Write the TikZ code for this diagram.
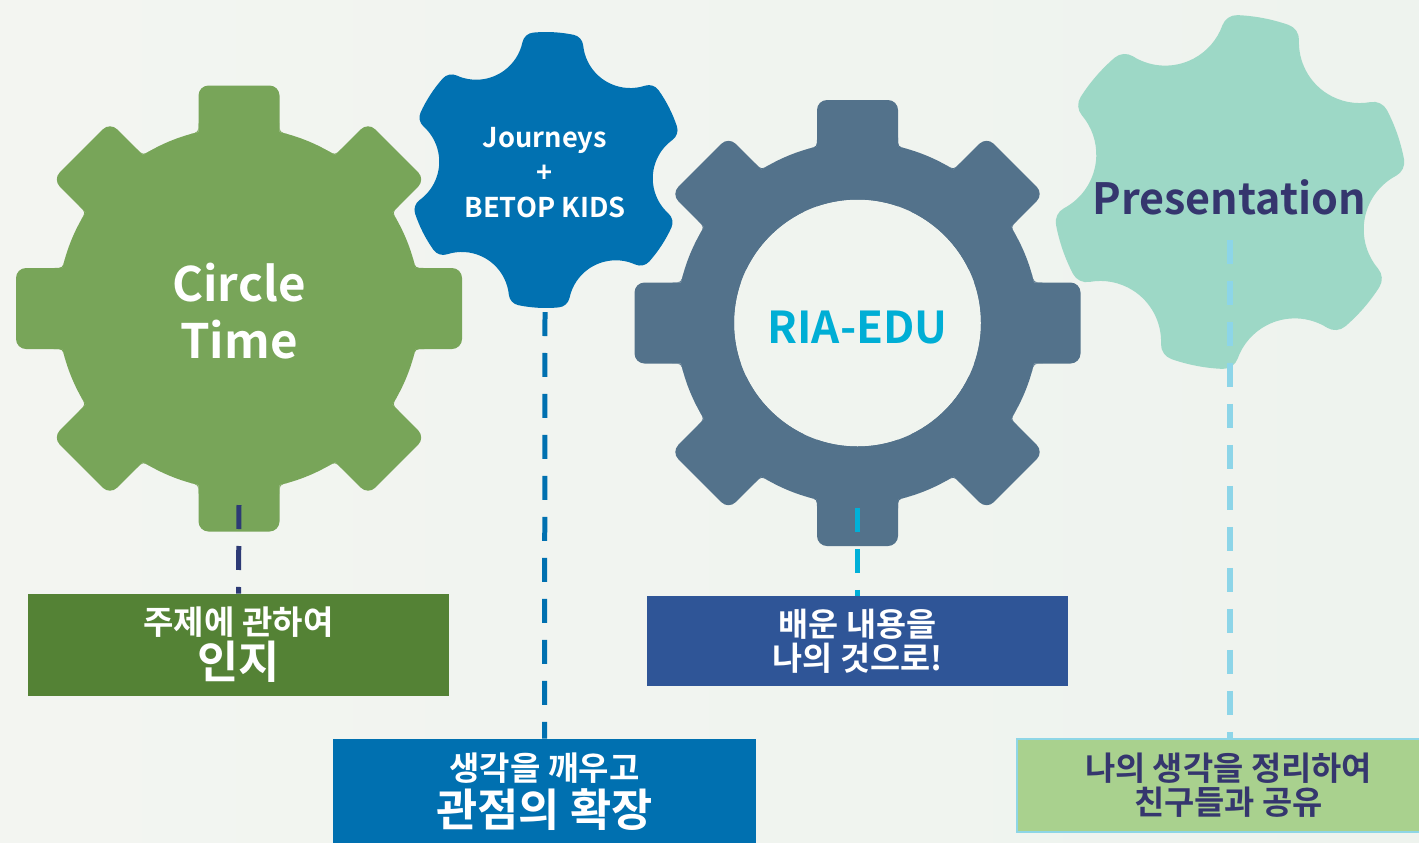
\documentclass[tikz,border=0pt]{standalone}
\usepackage{fontspec}
\newfontfamily\krb{Noto Sans CJK KR Bold}
\definecolor{bgL}{HTML}{F3F5F1}
\definecolor{bgR}{HTML}{EEF3EE}
\definecolor{gGreen}{HTML}{78A559}
\definecolor{gBlue}{HTML}{0171B1}
\definecolor{gSlate}{HTML}{53728B}
\definecolor{gTeal}{HTML}{9DD8C6}
\definecolor{bGreen}{HTML}{548235}
\definecolor{bBlue}{HTML}{0070B0}
\definecolor{bNavy}{HTML}{2F5597}
\definecolor{bLight}{HTML}{A9D18E}
\definecolor{bLightBorder}{HTML}{8ED6E6}
\definecolor{tNavy}{HTML}{35366E}
\definecolor{tCyan}{HTML}{00AED5}
\definecolor{lNavy}{HTML}{2D3A75}
\definecolor{lBlue}{HTML}{0070B0}
\definecolor{lCyan}{HTML}{00B0D8}
\definecolor{lLight}{HTML}{8DD5E8}
\newcommand\eightgear[3]{%
  \begin{scope}[shift={(#1,#2)}]
    \fill[#3] (0,0) circle[radius=181];
    \foreach \a in {0,45,...,315}{%
      \fill[#3,rotate=\a,rounded corners=0.2cm] (0,-40.5) rectangle (223,40.5);
      \fill[#3,rotate=\a] (185.4,40.5) -- (176.4,40.5) -- (174.18,49.22)
        .. controls (176.4,40.5) .. (185.4,40.5) -- cycle;
      \fill[#3,rotate=\a] (185.4,-40.5) -- (176.4,-40.5) -- (174.18,-49.22)
        .. controls (176.4,-40.5) .. (185.4,-40.5) -- cycle;}
  \end{scope}}
\newcommand\sixcog[5]{%
  \begin{scope}[shift={(#1,#2)},rotate=#3,scale=#4]
    \fill[#5] (-8.46:138) \foreach \k in {0,...,5} {
      arc[start angle=60*\k-8.46, end angle=60*\k+8.46, radius=138]
      arc[start angle=60*\k+8.46, end angle=60*\k+81.27, radius=12]
      arc[start angle=60*\k+261.27, end angle=60*\k+158.73, radius=47.3]
      arc[start angle=60*\k-21.27, end angle=60*\k+51.54, radius=12]
    } -- cycle;
  \end{scope}}
\begin{document}
\begin{tikzpicture}[x=0.02cm,y=-0.02cm,
  geartext/.style={align=center,inner sep=0pt},
  boxnode/.style={rectangle,inner sep=0pt,align=center},
  dline/.style={line width=0.1cm,dash pattern=on 0.48cm off 0.34cm}]
\useasboundingbox (0,0) rectangle (1419,842);
\shade[left color=bgL,right color=bgR] (0,0) rectangle (1419,842);

% gears
\eightgear{239}{308.5}{gGreen}
\sixcog{546}{170}{26.9}{1}{gBlue}
\begin{scope}[even odd rule]
  \clip (0,0) rectangle (1419,842) (857.5,323) circle[radius=123.5];
  \eightgear{857.5}{323}{gSlate}
\end{scope}
\sixcog{1230}{192}{19.1}{1.283}{gTeal}

% gear labels
\node[geartext,text=white,font=\krb\fontsize{27}{32.9}\selectfont] (circle) at (239,311) {Circle\\Time};
\node[geartext,text=white,font=\krb\fontsize{15.5}{19.8}\selectfont] (journeys) at (545,172.5) {Journeys\\+\\BETOP\ KIDS};
\node[geartext,text=tCyan,font=\krb\fontsize{25}{28}\selectfont] (ria) at (857.5,327.5) {RIA-EDU};
\node[geartext,text=tNavy,font=\krb\fontsize{24.5}{28}\selectfont] (pres) at (1229,197.5) {Presentation};

% connector start points
\coordinate (s1) at (239,505);
\coordinate (s2) at (545,312);
\coordinate (s3) at (857.5,508);
\coordinate (s4) at (1230,240);

% boxes
\node[boxnode,fill=bGreen,text=white,minimum width=8.42cm,minimum height=2.04cm,
  font=\krb\fontsize{18.8}{25}\selectfont] (b1) at (238.5,645)
  {주제에 관하여\\\fontsize{25.5}{25}\selectfont 인지};
\node[boxnode,fill=bBlue,text=white,minimum width=8.46cm,minimum height=2.12cm,
  font=\krb\fontsize{18.8}{26}\selectfont] (b2) at (544.5,792)
  {생각을 깨우고\\\fontsize{25.5}{26}\selectfont 관점의 확장};
\node[boxnode,fill=bNavy,text=white,minimum width=8.42cm,minimum height=1.8cm,
  font=\krb\fontsize{18.6}{19.5}\selectfont] (b3) at (857.5,641)
  {배운 내용을\\나의 것으로!};
\node[boxnode,fill=bLight,draw=bLightBorder,line width=0.04cm,text=tNavy,minimum width=8.46cm,minimum height=1.86cm,
  font=\krb\fontsize{18.7}{19.5}\selectfont] (b4) at (1228.5,785.5)
  {나의 생각을 정리하여\\친구들과 공유};

% connectors
\draw[dline,lNavy] (s1) -- (b1.north);
\draw[dline,lBlue] (s2) -- (b2.north);
\draw[dline,lCyan] (s3) -- (b3.north);
\draw[dline,lLight,line width=0.12cm] (s4) -- (s4 |- b4.north);
\end{tikzpicture}
\end{document}
